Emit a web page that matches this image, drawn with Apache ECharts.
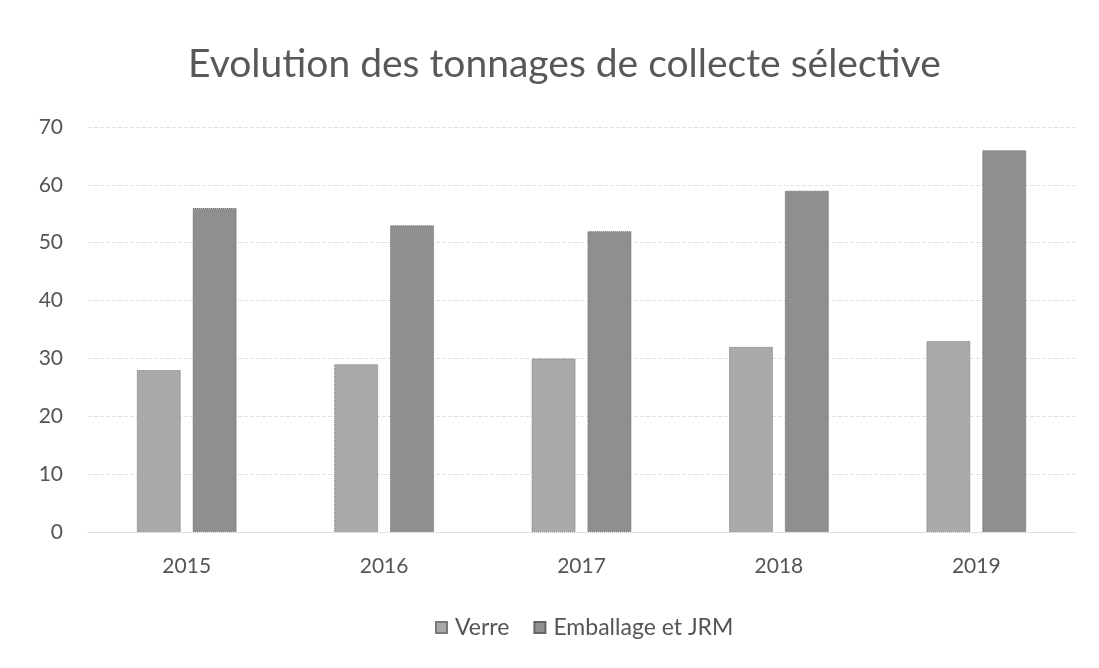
<!DOCTYPE html>
<html>
<head>
<meta charset="utf-8">
<script src="https://cdn.jsdelivr.net/npm/echarts@6/dist/echarts.min.js"></script>
<style>
  html, body { margin: 0; padding: 0; background: #fff; }
  #chart { width: 1099px; height: 668px; }
</style>
</head>
<body>
<div id="chart"></div>
<script>
// data
const years = ['2015', '2016', '2017', '2018', '2019'];
const verre = [28, 29, 30, 32, 33];
const emballage = [56, 53, 52, 59, 66];
const yTicks = [0, 10, 20, 30, 40, 50, 60, 70];

const font = 'Lato, "Open Sans", sans-serif';

echarts.init(document.querySelector('#chart')).setOption({
  animation: false,
  title: {
    text: 'Evolution des tonnages de collecte sélective',
    left: 183,
    top: 40,
    textStyle: { fontFamily: font, fontSize: 39, fontWeight: 'normal', color: '#585858' }
  },
  legend: {
    bottom: 24,
    left: 430,
    icon: 'rect',
    itemWidth: 11,
    itemHeight: 11,
    itemGap: 24,
    textStyle: { fontFamily: font, fontSize: 23, color: '#555', padding: [0, 0, 0, 3] },
    data: ['Verre', 'Emballage et JRM']
  },
  grid: { left: 88, right: 24, top: 127, bottom: 136 },
  xAxis: {
    type: 'category',
    data: years,
    axisTick: { show: false },
    axisLine: { lineStyle: { color: '#e0e0e0' } },
    axisLabel: { fontFamily: font, fontSize: 21, color: '#555', margin: 24 }
  },
  yAxis: {
    type: 'value',
    min: yTicks[0],
    max: yTicks[yTicks.length - 1],
    interval: 10,
    axisLabel: { fontFamily: font, fontSize: 21, color: '#555', margin: 25 },
    splitLine: { lineStyle: { color: '#e2e2e2', type: 'dashed' } }
  },
  series: [{
    name: 'Verre',
    type: 'bar',
    data: verre,
    barWidth: 44,
    barGap: '27%',
    itemStyle: { color: '#a9a9a9', borderColor: '#7a7a7a', borderWidth: 1, borderType: 'dotted' }
  }, {
    name: 'Emballage et JRM',
    type: 'bar',
    data: emballage,
    barWidth: 44,
    itemStyle: { color: '#8f8f8f', borderColor: '#666', borderWidth: 1, borderType: 'dotted' }
  }]
});
</script>
</body>
</html>
